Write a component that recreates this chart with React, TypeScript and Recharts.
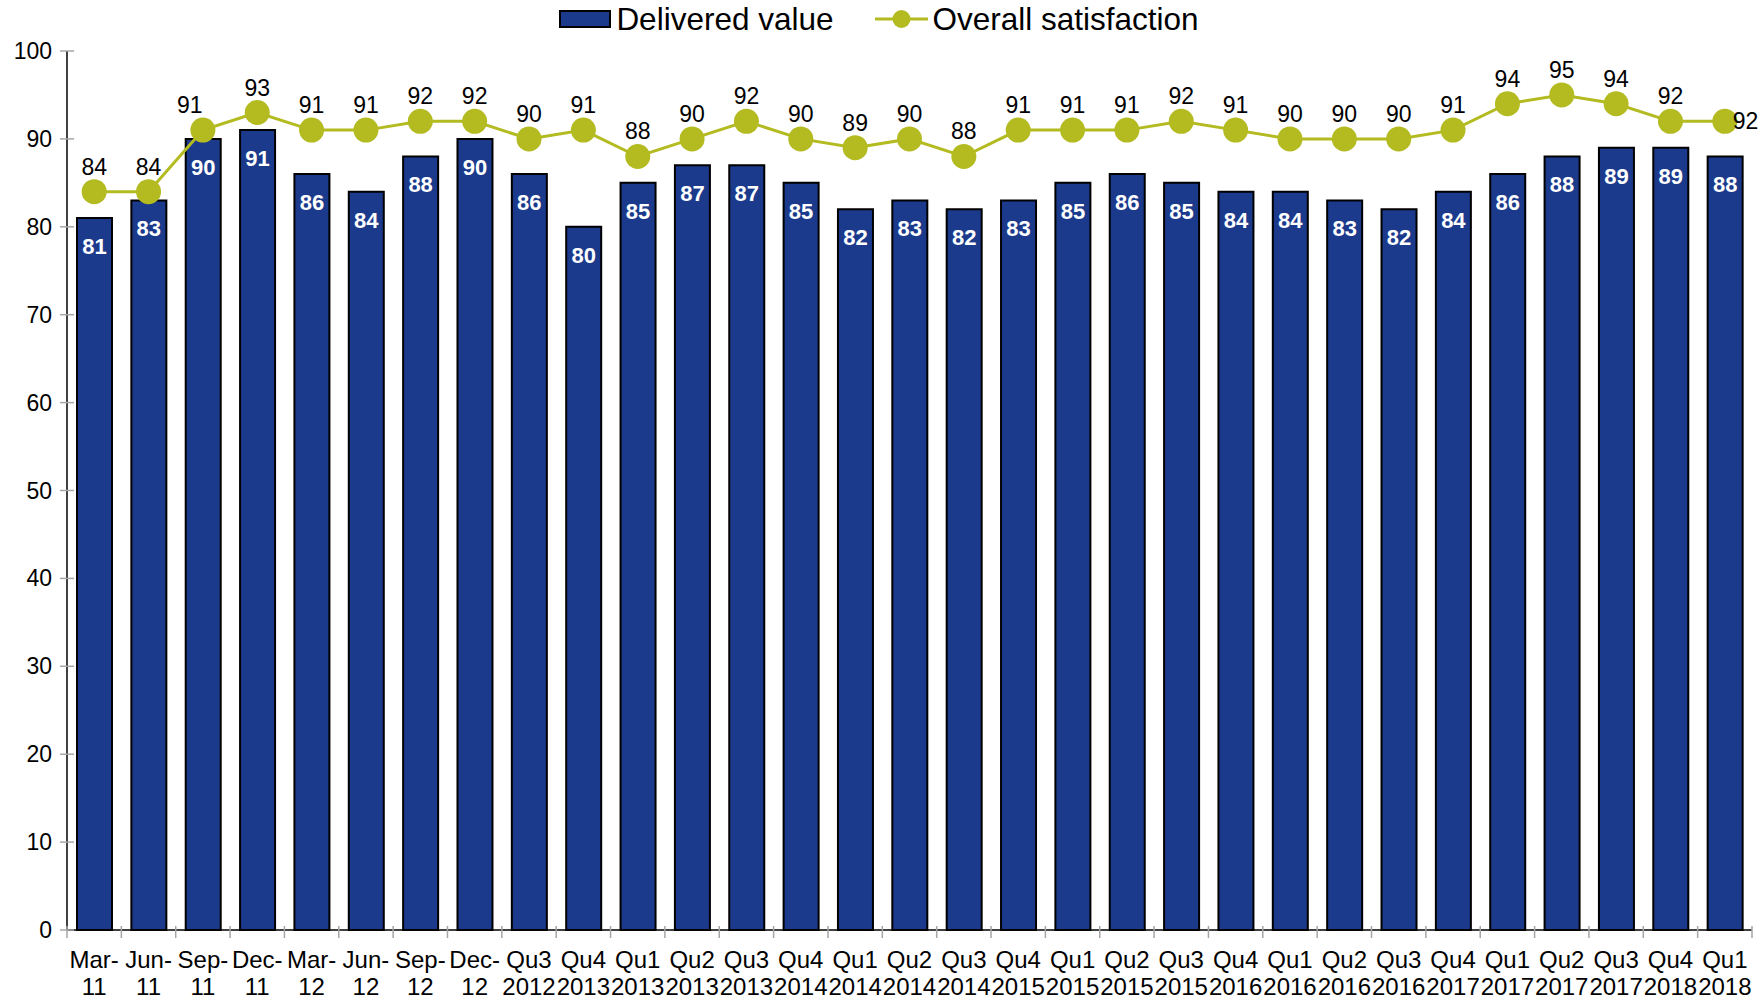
import {
    ComposedChart,
    Bar,
    Line,
    XAxis,
    YAxis,
    LabelList,
} from "recharts";

const periods = [
    "Mar-11", "Jun-11", "Sep-11", "Dec-11", "Mar-12", "Jun-12", "Sep-12", "Dec-12",
    "Qu3 2012", "Qu4 2013", "Qu1 2013", "Qu2 2013", "Qu3 2013", "Qu4 2014", "Qu1 2014",
    "Qu2 2014", "Qu3 2014", "Qu4 2015", "Qu1 2015", "Qu2 2015", "Qu3 2015", "Qu4 2016",
    "Qu1 2016", "Qu2 2016", "Qu3 2016", "Qu4 2017", "Qu1 2017", "Qu2 2017", "Qu3 2017",
    "Qu4 2018", "Qu1 2018",
];

const deliveredValue = [
    81, 83, 90, 91, 86, 84, 88, 90, 86, 80, 85, 87, 87, 85, 82, 83, 82, 83, 85, 86, 85, 84,
    84, 83, 82, 84, 86, 88, 89, 89, 88,
];

const overallSatisfaction = [
    84, 84, 91, 93, 91, 91, 92, 92, 90, 91, 88, 90, 92, 90, 89, 90, 88, 91, 91, 91, 92, 91,
    90, 90, 90, 91, 94, 95, 94, 92, 92,
];

const yTicks = [0, 10, 20, 30, 40, 50, 60, 70, 80, 90, 100];

const BAR_COLOR = "#1b3a8c";
const LINE_COLOR = "#b3bb21";
const FONT = "'Liberation Sans', Arial, sans-serif";

// page is 1760x999; body margin is removed so chart coords = page coords
const WIDTH = 1760;
const HEIGHT = 999;
const PLOT_LEFT = 67;
const PLOT_RIGHT = 1752;
const BAND = (PLOT_RIGHT - PLOT_LEFT) / periods.length;

const data = periods.map((p, i) => ({
    period: p,
    delivered: deliveredValue[i],
    satisfaction: overallSatisfaction[i],
}));

function splitLabel(s: string): [string, string] {
    if (s.includes(" ")) {
        const [a, b] = s.split(" ");
        return [a, b];
    }
    const k = s.indexOf("-");
    return [s.slice(0, k + 1), s.slice(k + 1)];
}

function XTick(props: any) {
    const { x, y, payload, index } = props;
    const [top, bottom] = splitLabel(String(payload.value));
    const left = x - BAND / 2;
    return (
        <g>
            <line x1={left} x2={left} y1={y - 4} y2={y + 8} stroke="#a6a6a6" strokeWidth={1.5} />
            {index === periods.length - 1 ? (
                <line x1={left + BAND} x2={left + BAND} y1={y - 4} y2={y + 8} stroke="#a6a6a6" strokeWidth={1.5} />
            ) : null}
            <text x={x} y={y + 38} textAnchor="middle" fontSize={24} fill="#000" fontFamily={FONT}>
                {top}
            </text>
            <text x={x} y={y + 65} textAnchor="middle" fontSize={24} fill="#000" fontFamily={FONT}>
                {bottom}
            </text>
        </g>
    );
}

function YTick(props: any) {
    const { x, y, payload } = props;
    return (
        <g>
            <line x1={x - 7} x2={x + 7} y1={y} y2={y} stroke="#a6a6a6" strokeWidth={1.5} />
            <text x={x - 15} y={y + 8} textAnchor="end" fontSize={23} fill="#000" fontFamily={FONT}>
                {payload.value}
            </text>
        </g>
    );
}

function LineLabel(props: any) {
    const { x, y, value, index } = props;
    if (index === periods.length - 1) {
        return (
            <text x={x + 8} y={y + 8} textAnchor="start" fontSize={23} fill="#000" fontFamily={FONT}>
                {value}
            </text>
        );
    }
    const dx = index === 2 ? -13 : 0;
    return (
        <text x={x + dx} y={y - 17} textAnchor="middle" fontSize={23} fill="#000" fontFamily={FONT}>
            {value}
        </text>
    );
}

function BarLabel(props: any) {
    const { x, y, width, value } = props;
    return (
        <text
            x={x + width / 2}
            y={y + 36}
            textAnchor="middle"
            fontSize={22}
            fontWeight="bold"
            fill="#fff"
            fontFamily={FONT}
        >
            {value}
        </text>
    );
}

function ChartLegend() {
    return (
        <div
            style={{
                position: "absolute",
                top: 3,
                left: -1,
                width: WIDTH,
                display: "flex",
                justifyContent: "center",
                alignItems: "center",
                height: 32,
                fontFamily: FONT,
                fontSize: 31.5,
                color: "#000",
                whiteSpace: "nowrap",
            }}
        >
            <span
                style={{
                    display: "inline-block",
                    width: 48,
                    height: 14,
                    background: BAR_COLOR,
                    border: "2px solid #000",
                    marginRight: 5,
                }}
            />
            <span style={{ marginRight: 41 }}>Delivered value</span>
            <svg width={53} height={20} style={{ marginRight: 5 }}>
                <line x1={0} x2={53} y1={10} y2={10} stroke={LINE_COLOR} strokeWidth={3} />
                <circle cx={26.5} cy={10} r={9} fill={LINE_COLOR} />
            </svg>
            <span>Overall satisfaction</span>
        </div>
    );
}

export default function App() {
    return (
        <div style={{ position: "relative", width: WIDTH, height: HEIGHT, fontFamily: FONT }}>
            <style>{"body { margin: 0; overflow: hidden; }"}</style>
            <ComposedChart
                width={WIDTH}
                height={HEIGHT}
                data={data}
                margin={{ top: 51, right: WIDTH - PLOT_RIGHT, bottom: 0, left: 0 }}
            >
                <XAxis
                    dataKey="period"
                    interval={0}
                    height={69}
                    tickSize={0}
                    tickMargin={0}
                    tickLine={false}
                    axisLine={{ stroke: "#000", strokeWidth: 1.5 }}
                    tick={<XTick />}
                />
                <YAxis
                    width={PLOT_LEFT}
                    domain={[0, 100]}
                    ticks={yTicks}
                    interval={0}
                    tickSize={0}
                    tickMargin={0}
                    tickLine={false}
                    axisLine={{ stroke: "#000", strokeWidth: 1.5 }}
                    tick={<YTick />}
                />
                <Bar
                    dataKey="delivered"
                    name="Delivered value"
                    barSize={35}
                    fill={BAR_COLOR}
                    stroke="#000"
                    strokeWidth={2}
                    isAnimationActive={false}
                >
                    <LabelList dataKey="delivered" content={<BarLabel />} />
                </Bar>
                <Line
                    dataKey="satisfaction"
                    name="Overall satisfaction"
                    stroke={LINE_COLOR}
                    strokeWidth={3}
                    dot={{ r: 12.5, fill: LINE_COLOR, stroke: "none" }}
                    activeDot={false}
                    isAnimationActive={false}
                >
                    <LabelList dataKey="satisfaction" content={<LineLabel />} />
                </Line>
            </ComposedChart>
            <ChartLegend />
        </div>
    );
}
